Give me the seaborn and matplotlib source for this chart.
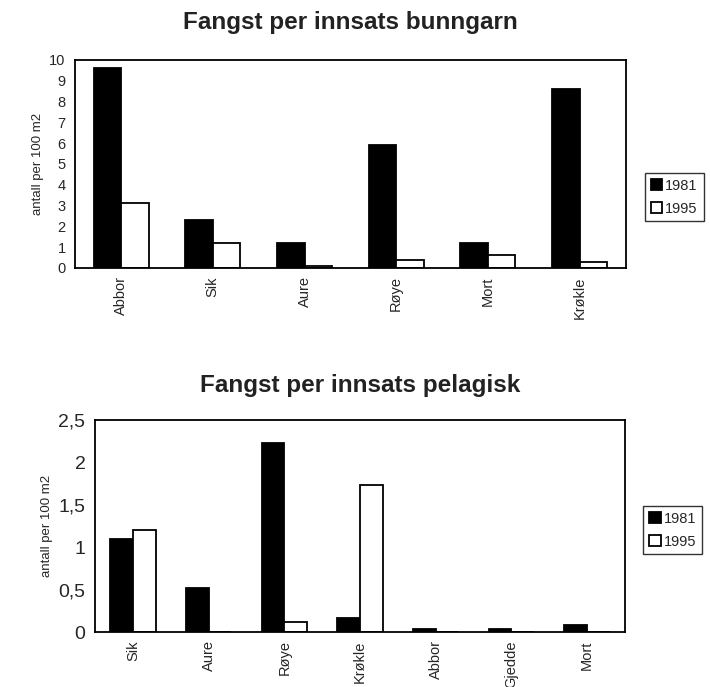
import matplotlib
matplotlib.use("Agg")
import matplotlib.pyplot as plt
import seaborn as sns
import pandas as pd
import numpy as np

# bunngarn (bottom nets)
bunn_arter = ["Abbor", "Sik", "Aure", "Røye", "Mort", "Krøkle"]
bunn_1981 = [9.6, 2.3, 1.2, 5.9, 1.2, 8.6]
bunn_1995 = [3.1, 1.2, 0.1, 0.4, 0.6, 0.3]

# pelagisk
pel_arter = ["Sik", "Aure", "Røye", "Krøkle", "Abbor", "Gjedde", "Mort"]
pel_1981 = [1.1, 0.52, 2.23, 0.17, 0.03, 0.04, 0.08]
pel_1995 = [1.2, 0.0, 0.12, 1.73, 0.0, 0.0, 0.0]

years = ["1981", "1995"]
colors = {"1981": "black", "1995": "white"}


def make_df(arter, v81, v95):
    return pd.DataFrame({
        "art": arter * 2,
        "year": [years[0]] * len(arter) + [years[1]] * len(arter),
        "value": list(v81) + list(v95),
    })


def draw(ax, df, arter, title, yticks, ylabels, ytick_size, leg_y, title_pad):
    sns.barplot(data=df, x="art", y="value", hue="year", palette=colors,
                order=arter, hue_order=years, width=0.6, edgecolor="black",
                linewidth=1.3, ax=ax, saturation=1)
    n = len(arter)
    ax.set_xlim(-0.5, n - 0.5)
    ax.set_ylim(0, yticks[-1])
    ax.set_yticks(yticks)
    ax.set_yticklabels(ylabels, fontsize=ytick_size)
    ax.set_xticks(np.arange(n))
    ax.set_xticklabels(arter, rotation=90, fontsize=10.5)
    ax.tick_params(axis="x", length=0, pad=6)
    ax.set_xticks(np.arange(n + 1) - 0.5, minor=True)
    ax.tick_params(axis="x", which="minor", length=5, width=1, direction="out")
    ax.tick_params(axis="y", length=5, width=1, direction="out", pad=2)
    ax.set_xlabel("")
    ax.set_ylabel("antall per 100 m2", fontsize=9.5)
    for s in ax.spines.values():
        s.set_visible(True)
        s.set_color("black")
        s.set_linewidth(1.3)
    ax.set_title(title, fontsize=17.5, fontweight="bold", pad=title_pad,
                 color="#222222")
    handles, labels = ax.get_legend_handles_labels()
    ax.legend(handles, labels, loc="center left", bbox_to_anchor=(1.035, leg_y),
              frameon=True, fancybox=False, edgecolor="black", fontsize=10.5,
              handlelength=0.8, handleheight=0.8, handletextpad=0.2,
              borderpad=0.4, labelspacing=0.6, borderaxespad=0)


sns.set_style("white")
plt.rcParams["font.family"] = ["Liberation Sans", "DejaVu Sans"]

fig = plt.figure(figsize=(7.1, 6.87), dpi=100)
ax1 = fig.add_axes([0.106, 0.610, 0.775, 0.303])
ax2 = fig.add_axes([0.134, 0.080, 0.746, 0.309])

draw(ax1, make_df(bunn_arter, bunn_1981, bunn_1995), bunn_arter,
     "Fangst per innsats bunngarn", list(range(0, 11)),
     [str(i) for i in range(0, 11)], 10.5, 0.34, 22)
draw(ax2, make_df(pel_arter, pel_1981, pel_1995), pel_arter,
     "Fangst per innsats pelagisk", [0, 0.5, 1, 1.5, 2, 2.5],
     ["0", "0,5", "1", "1,5", "2", "2,5"], 14, 0.48, 20)

fig.savefig("out.png", dpi=100)
